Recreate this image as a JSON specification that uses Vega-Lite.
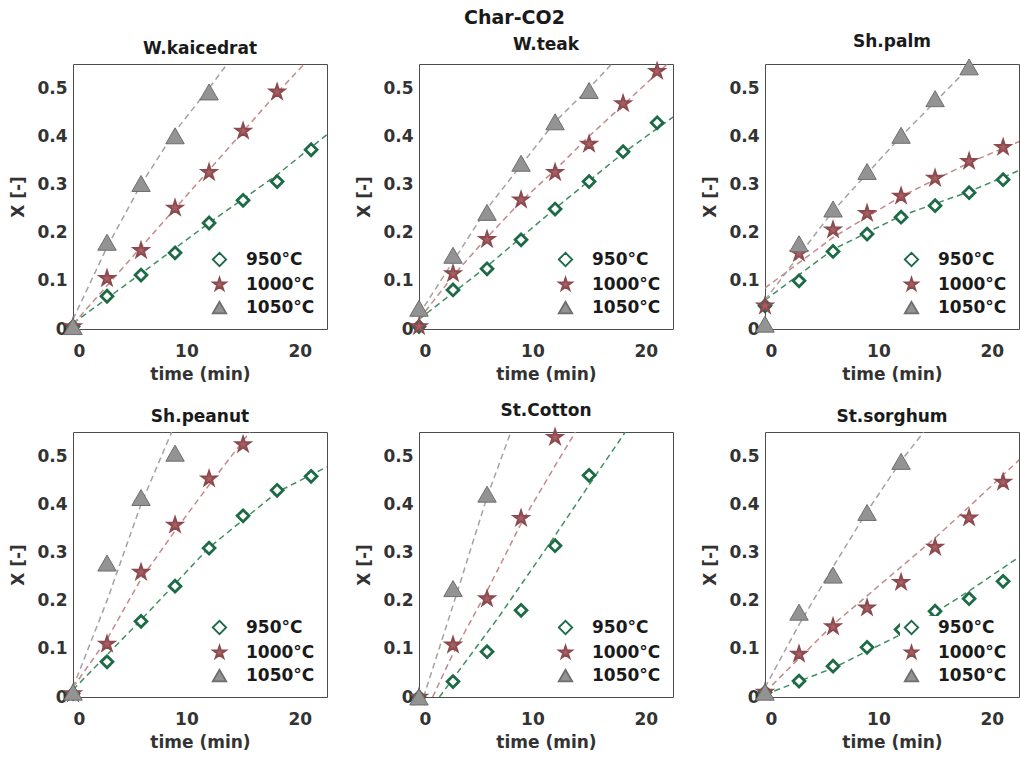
{
  "$schema": "https://vega.github.io/schema/vega-lite/v6.json",
  "background": "white",
  "padding": {"left": 9, "top": 9, "right": 2, "bottom": 2},
  "title": {"text": "Char-CO2", "fontSize": 19, "fontWeight": "bold", "anchor": "middle", "color": "#1a1a1a", "offset": 4, "frame": "bounds"},
  "spacing": 18,
  "datasets": {
    "pts": [
      {"panel":"W.kaicedrat","series":"950°C","time":0,"X":0.005},{"panel":"W.kaicedrat","series":"950°C","time":3,"X":0.068},{"panel":"W.kaicedrat","series":"950°C","time":6,"X":0.112},{"panel":"W.kaicedrat","series":"950°C","time":9,"X":0.158},{"panel":"W.kaicedrat","series":"950°C","time":12,"X":0.22},{"panel":"W.kaicedrat","series":"950°C","time":15,"X":0.267},{"panel":"W.kaicedrat","series":"950°C","time":18,"X":0.306},{"panel":"W.kaicedrat","series":"950°C","time":21,"X":0.372},
      {"panel":"W.kaicedrat","series":"1000°C","time":0,"X":0.005},{"panel":"W.kaicedrat","series":"1000°C","time":3,"X":0.105},{"panel":"W.kaicedrat","series":"1000°C","time":6,"X":0.163},{"panel":"W.kaicedrat","series":"1000°C","time":9,"X":0.251},{"panel":"W.kaicedrat","series":"1000°C","time":12,"X":0.325},{"panel":"W.kaicedrat","series":"1000°C","time":15,"X":0.411},{"panel":"W.kaicedrat","series":"1000°C","time":18,"X":0.492},
      {"panel":"W.kaicedrat","series":"1050°C","time":0,"X":0.005},{"panel":"W.kaicedrat","series":"1050°C","time":3,"X":0.18},{"panel":"W.kaicedrat","series":"1050°C","time":6,"X":0.302},{"panel":"W.kaicedrat","series":"1050°C","time":9,"X":0.401},{"panel":"W.kaicedrat","series":"1050°C","time":12,"X":0.492},
      {"panel":"W.teak","series":"950°C","time":0,"X":0.005},{"panel":"W.teak","series":"950°C","time":3,"X":0.081},{"panel":"W.teak","series":"950°C","time":6,"X":0.125},{"panel":"W.teak","series":"950°C","time":9,"X":0.185},{"panel":"W.teak","series":"950°C","time":12,"X":0.249},{"panel":"W.teak","series":"950°C","time":15,"X":0.306},{"panel":"W.teak","series":"950°C","time":18,"X":0.368},{"panel":"W.teak","series":"950°C","time":21,"X":0.428},
      {"panel":"W.teak","series":"1000°C","time":0,"X":0.005},{"panel":"W.teak","series":"1000°C","time":3,"X":0.115},{"panel":"W.teak","series":"1000°C","time":6,"X":0.186},{"panel":"W.teak","series":"1000°C","time":9,"X":0.268},{"panel":"W.teak","series":"1000°C","time":12,"X":0.325},{"panel":"W.teak","series":"1000°C","time":15,"X":0.384},{"panel":"W.teak","series":"1000°C","time":18,"X":0.468},{"panel":"W.teak","series":"1000°C","time":21,"X":0.535},
      {"panel":"W.teak","series":"1050°C","time":0,"X":0.043},{"panel":"W.teak","series":"1050°C","time":3,"X":0.153},{"panel":"W.teak","series":"1050°C","time":6,"X":0.242},{"panel":"W.teak","series":"1050°C","time":9,"X":0.344},{"panel":"W.teak","series":"1050°C","time":12,"X":0.43},{"panel":"W.teak","series":"1050°C","time":15,"X":0.495},
      {"panel":"Sh.palm","series":"950°C","time":0,"X":0.048},{"panel":"Sh.palm","series":"950°C","time":3,"X":0.1},{"panel":"Sh.palm","series":"950°C","time":6,"X":0.161},{"panel":"Sh.palm","series":"950°C","time":9,"X":0.197},{"panel":"Sh.palm","series":"950°C","time":12,"X":0.232},{"panel":"Sh.palm","series":"950°C","time":15,"X":0.256},{"panel":"Sh.palm","series":"950°C","time":18,"X":0.283},{"panel":"Sh.palm","series":"950°C","time":21,"X":0.31},
      {"panel":"Sh.palm","series":"1000°C","time":0,"X":0.048},{"panel":"Sh.palm","series":"1000°C","time":3,"X":0.157},{"panel":"Sh.palm","series":"1000°C","time":6,"X":0.206},{"panel":"Sh.palm","series":"1000°C","time":9,"X":0.24},{"panel":"Sh.palm","series":"1000°C","time":12,"X":0.276},{"panel":"Sh.palm","series":"1000°C","time":15,"X":0.313},{"panel":"Sh.palm","series":"1000°C","time":18,"X":0.348},{"panel":"Sh.palm","series":"1000°C","time":21,"X":0.377},
      {"panel":"Sh.palm","series":"1050°C","time":0,"X":0.01},{"panel":"Sh.palm","series":"1050°C","time":3,"X":0.177},{"panel":"Sh.palm","series":"1050°C","time":6,"X":0.249},{"panel":"Sh.palm","series":"1050°C","time":9,"X":0.327},{"panel":"Sh.palm","series":"1050°C","time":12,"X":0.402},{"panel":"Sh.palm","series":"1050°C","time":15,"X":0.478},{"panel":"Sh.palm","series":"1050°C","time":18,"X":0.544},
      {"panel":"Sh.peanut","series":"950°C","time":0,"X":0.007},{"panel":"Sh.peanut","series":"950°C","time":3,"X":0.073},{"panel":"Sh.peanut","series":"950°C","time":6,"X":0.157},{"panel":"Sh.peanut","series":"950°C","time":9,"X":0.23},{"panel":"Sh.peanut","series":"950°C","time":12,"X":0.309},{"panel":"Sh.peanut","series":"950°C","time":15,"X":0.376},{"panel":"Sh.peanut","series":"950°C","time":18,"X":0.429},{"panel":"Sh.peanut","series":"950°C","time":21,"X":0.458},
      {"panel":"Sh.peanut","series":"1000°C","time":0,"X":0.007},{"panel":"Sh.peanut","series":"1000°C","time":3,"X":0.11},{"panel":"Sh.peanut","series":"1000°C","time":6,"X":0.259},{"panel":"Sh.peanut","series":"1000°C","time":9,"X":0.357},{"panel":"Sh.peanut","series":"1000°C","time":12,"X":0.453},{"panel":"Sh.peanut","series":"1000°C","time":15,"X":0.524},
      {"panel":"Sh.peanut","series":"1050°C","time":0,"X":0.01},{"panel":"Sh.peanut","series":"1050°C","time":3,"X":0.278},{"panel":"Sh.peanut","series":"1050°C","time":6,"X":0.414},{"panel":"Sh.peanut","series":"1050°C","time":9,"X":0.506},
      {"panel":"St.Cotton","series":"950°C","time":0,"X":0.0},{"panel":"St.Cotton","series":"950°C","time":3,"X":0.032},{"panel":"St.Cotton","series":"950°C","time":6,"X":0.094},{"panel":"St.Cotton","series":"950°C","time":9,"X":0.18},{"panel":"St.Cotton","series":"950°C","time":12,"X":0.314},{"panel":"St.Cotton","series":"950°C","time":15,"X":0.46},
      {"panel":"St.Cotton","series":"1000°C","time":0,"X":0.0},{"panel":"St.Cotton","series":"1000°C","time":3,"X":0.108},{"panel":"St.Cotton","series":"1000°C","time":6,"X":0.204},{"panel":"St.Cotton","series":"1000°C","time":9,"X":0.371},{"panel":"St.Cotton","series":"1000°C","time":12,"X":0.539},
      {"panel":"St.Cotton","series":"1050°C","time":0,"X":0.0},{"panel":"St.Cotton","series":"1050°C","time":3,"X":0.225},{"panel":"St.Cotton","series":"1050°C","time":6,"X":0.421},
      {"panel":"St.sorghum","series":"950°C","time":0,"X":0.01},{"panel":"St.sorghum","series":"950°C","time":3,"X":0.033},{"panel":"St.sorghum","series":"950°C","time":6,"X":0.064},{"panel":"St.sorghum","series":"950°C","time":9,"X":0.103},{"panel":"St.sorghum","series":"950°C","time":12,"X":0.14},{"panel":"St.sorghum","series":"950°C","time":15,"X":0.178},{"panel":"St.sorghum","series":"950°C","time":18,"X":0.204},{"panel":"St.sorghum","series":"950°C","time":21,"X":0.24},
      {"panel":"St.sorghum","series":"1000°C","time":0,"X":0.01},{"panel":"St.sorghum","series":"1000°C","time":3,"X":0.089},{"panel":"St.sorghum","series":"1000°C","time":6,"X":0.146},{"panel":"St.sorghum","series":"1000°C","time":9,"X":0.185},{"panel":"St.sorghum","series":"1000°C","time":12,"X":0.238},{"panel":"St.sorghum","series":"1000°C","time":15,"X":0.311},{"panel":"St.sorghum","series":"1000°C","time":18,"X":0.372},{"panel":"St.sorghum","series":"1000°C","time":21,"X":0.446},
      {"panel":"St.sorghum","series":"1050°C","time":0,"X":0.01},{"panel":"St.sorghum","series":"1050°C","time":3,"X":0.176},{"panel":"St.sorghum","series":"1050°C","time":6,"X":0.253},{"panel":"St.sorghum","series":"1050°C","time":9,"X":0.383},{"panel":"St.sorghum","series":"1050°C","time":12,"X":0.489}
    ],
    "fit": [
      {"panel":"W.kaicedrat","series":"950°C","time":0,"X":0.012},{"panel":"W.kaicedrat","series":"950°C","time":6,"X":0.115},{"panel":"W.kaicedrat","series":"950°C","time":12,"X":0.22},{"panel":"W.kaicedrat","series":"950°C","time":18,"X":0.32},{"panel":"W.kaicedrat","series":"950°C","time":23,"X":0.415},
      {"panel":"W.kaicedrat","series":"1000°C","time":0,"X":0.01},{"panel":"W.kaicedrat","series":"1000°C","time":6,"X":0.17},{"panel":"W.kaicedrat","series":"1000°C","time":12,"X":0.33},{"panel":"W.kaicedrat","series":"1000°C","time":18,"X":0.49},{"panel":"W.kaicedrat","series":"1000°C","time":20.4,"X":0.55},
      {"panel":"W.kaicedrat","series":"1050°C","time":0,"X":0.02},{"panel":"W.kaicedrat","series":"1050°C","time":3,"X":0.17},{"panel":"W.kaicedrat","series":"1050°C","time":6,"X":0.3},{"panel":"W.kaicedrat","series":"1050°C","time":9,"X":0.41},{"panel":"W.kaicedrat","series":"1050°C","time":12,"X":0.5},{"panel":"W.kaicedrat","series":"1050°C","time":13.6,"X":0.55},
      {"panel":"W.teak","series":"950°C","time":0,"X":0.02},{"panel":"W.teak","series":"950°C","time":6,"X":0.13},{"panel":"W.teak","series":"950°C","time":12,"X":0.25},{"panel":"W.teak","series":"950°C","time":18,"X":0.365},{"panel":"W.teak","series":"950°C","time":23,"X":0.45},
      {"panel":"W.teak","series":"1000°C","time":0,"X":0.02},{"panel":"W.teak","series":"1000°C","time":3,"X":0.11},{"panel":"W.teak","series":"1000°C","time":6,"X":0.19},{"panel":"W.teak","series":"1000°C","time":9,"X":0.265},{"panel":"W.teak","series":"1000°C","time":12,"X":0.33},{"panel":"W.teak","series":"1000°C","time":15,"X":0.4},{"panel":"W.teak","series":"1000°C","time":18,"X":0.465},{"panel":"W.teak","series":"1000°C","time":21.9,"X":0.55},
      {"panel":"W.teak","series":"1050°C","time":0,"X":0.03},{"panel":"W.teak","series":"1050°C","time":3,"X":0.14},{"panel":"W.teak","series":"1050°C","time":6,"X":0.25},{"panel":"W.teak","series":"1050°C","time":9,"X":0.34},{"panel":"W.teak","series":"1050°C","time":12,"X":0.43},{"panel":"W.teak","series":"1050°C","time":15,"X":0.5},{"panel":"W.teak","series":"1050°C","time":17,"X":0.55},
      {"panel":"Sh.palm","series":"950°C","time":0,"X":0.06},{"panel":"Sh.palm","series":"950°C","time":6,"X":0.165},{"panel":"Sh.palm","series":"950°C","time":12,"X":0.235},{"panel":"Sh.palm","series":"950°C","time":18,"X":0.285},{"panel":"Sh.palm","series":"950°C","time":23,"X":0.335},
      {"panel":"Sh.palm","series":"1000°C","time":0,"X":0.085},{"panel":"Sh.palm","series":"1000°C","time":6,"X":0.19},{"panel":"Sh.palm","series":"1000°C","time":12,"X":0.275},{"panel":"Sh.palm","series":"1000°C","time":18,"X":0.345},{"panel":"Sh.palm","series":"1000°C","time":23,"X":0.395},
      {"panel":"Sh.palm","series":"1050°C","time":0,"X":0.06},{"panel":"Sh.palm","series":"1050°C","time":6,"X":0.245},{"panel":"Sh.palm","series":"1050°C","time":12,"X":0.4},{"panel":"Sh.palm","series":"1050°C","time":18.3,"X":0.55},
      {"panel":"Sh.peanut","series":"950°C","time":0,"X":0.015},{"panel":"Sh.peanut","series":"950°C","time":6,"X":0.16},{"panel":"Sh.peanut","series":"950°C","time":12,"X":0.31},{"panel":"Sh.peanut","series":"950°C","time":18,"X":0.425},{"panel":"Sh.peanut","series":"950°C","time":23,"X":0.485},
      {"panel":"Sh.peanut","series":"1000°C","time":0,"X":0.02},{"panel":"Sh.peanut","series":"1000°C","time":3,"X":0.12},{"panel":"Sh.peanut","series":"1000°C","time":6,"X":0.245},{"panel":"Sh.peanut","series":"1000°C","time":9,"X":0.345},{"panel":"Sh.peanut","series":"1000°C","time":12,"X":0.44},{"panel":"Sh.peanut","series":"1000°C","time":15.6,"X":0.55},
      {"panel":"Sh.peanut","series":"1050°C","time":0,"X":0.02},{"panel":"Sh.peanut","series":"1050°C","time":3,"X":0.2},{"panel":"Sh.peanut","series":"1050°C","time":6,"X":0.4},{"panel":"Sh.peanut","series":"1050°C","time":8.7,"X":0.55},
      {"panel":"St.Cotton","series":"950°C","time":1.8,"X":0.0},{"panel":"St.Cotton","series":"950°C","time":7,"X":0.165},{"panel":"St.Cotton","series":"950°C","time":12,"X":0.335},{"panel":"St.Cotton","series":"950°C","time":15,"X":0.44},{"panel":"St.Cotton","series":"950°C","time":18.2,"X":0.55},
      {"panel":"St.Cotton","series":"1000°C","time":1.2,"X":0.0},{"panel":"St.Cotton","series":"1000°C","time":3,"X":0.09},{"panel":"St.Cotton","series":"1000°C","time":6,"X":0.22},{"panel":"St.Cotton","series":"1000°C","time":9,"X":0.36},{"panel":"St.Cotton","series":"1000°C","time":12,"X":0.48},{"panel":"St.Cotton","series":"1000°C","time":13.8,"X":0.55},
      {"panel":"St.Cotton","series":"1050°C","time":0.4,"X":0.0},{"panel":"St.Cotton","series":"1050°C","time":3,"X":0.19},{"panel":"St.Cotton","series":"1050°C","time":6,"X":0.415},{"panel":"St.Cotton","series":"1050°C","time":8.1,"X":0.55},
      {"panel":"St.sorghum","series":"950°C","time":0,"X":0.005},{"panel":"St.sorghum","series":"950°C","time":6,"X":0.06},{"panel":"St.sorghum","series":"950°C","time":12,"X":0.13},{"panel":"St.sorghum","series":"950°C","time":15,"X":0.175},{"panel":"St.sorghum","series":"950°C","time":18,"X":0.22},{"panel":"St.sorghum","series":"950°C","time":23,"X":0.3},
      {"panel":"St.sorghum","series":"1000°C","time":0,"X":0.01},{"panel":"St.sorghum","series":"1000°C","time":3,"X":0.08},{"panel":"St.sorghum","series":"1000°C","time":6,"X":0.15},{"panel":"St.sorghum","series":"1000°C","time":9,"X":0.21},{"panel":"St.sorghum","series":"1000°C","time":12,"X":0.27},{"panel":"St.sorghum","series":"1000°C","time":15,"X":0.33},{"panel":"St.sorghum","series":"1000°C","time":18,"X":0.395},{"panel":"St.sorghum","series":"1000°C","time":23,"X":0.505},
      {"panel":"St.sorghum","series":"1050°C","time":0,"X":0.02},{"panel":"St.sorghum","series":"1050°C","time":3,"X":0.15},{"panel":"St.sorghum","series":"1050°C","time":6,"X":0.27},{"panel":"St.sorghum","series":"1050°C","time":9,"X":0.385},{"panel":"St.sorghum","series":"1050°C","time":12,"X":0.49},{"panel":"St.sorghum","series":"1050°C","time":14,"X":0.55}
    ]
  },
  "vconcat": [
    {"hconcat": [
      {"title": "W.kaicedrat", "width": 254, "height": 265, "layer": [
        {"data": {"name": "fit"}, "transform": [{"filter": "datum.panel === 'W.kaicedrat'"}], "mark": {"type": "line", "strokeDash": [6, 4], "strokeWidth": 1.5, "clip": true},
         "encoding": {"x": {"field": "time", "type": "quantitative", "scale": {"domain": [0, 22.4], "nice": false}, "axis": {"values": [0, 10, 20], "title": "time (min)"}}, "y": {"field": "X", "type": "quantitative", "scale": {"domain": [0, 0.55], "nice": false}, "axis": {"values": [0, 0.1, 0.2, 0.3, 0.4, 0.5], "format": "~g", "title": "X [-]"}}, "color": {"field": "series", "type": "nominal", "scale": {"domain": ["950°C", "1000°C", "1050°C"], "range": ["#3f8f62", "#c48a8a", "#a3a3a3"]}, "legend": null}}},
        {"data": {"name": "pts"}, "transform": [{"filter": "datum.panel === 'W.kaicedrat'"}], "mark": {"type": "point", "opacity": 1, "fillOpacity": 1, "strokeOpacity": 1},
         "encoding": {"x": {"field": "time", "type": "quantitative"}, "y": {"field": "X", "type": "quantitative"},
          "fill": {"field": "series", "type": "nominal", "scale": {"domain": ["950°C", "1000°C", "1050°C"], "range": ["#ffffff", "#a65e62", "#939393"]}, "legend": {"title": null}},
          "stroke": {"field": "series", "type": "nominal", "scale": {"domain": ["950°C", "1000°C", "1050°C"], "range": ["#1d6b46", "#8c4a4e", "#6e6e6e"]}, "legend": {"title": null}},
          "shape": {"field": "series", "type": "nominal", "scale": {"domain": ["950°C", "1000°C", "1050°C"], "range": ["diamond", "M0,-1L0.2245,-0.309L0.951,-0.309L0.363,0.118L0.588,0.809L0,0.382L-0.588,0.809L-0.363,0.118L-0.951,-0.309L-0.2245,-0.309Z", "triangle-up"]}, "legend": {"title": null}},
          "size": {"field": "series", "type": "nominal", "scale": {"domain": ["950°C", "1000°C", "1050°C"], "range": [140, 340, 210]}, "legend": null},
          "strokeWidth": {"field": "series", "type": "nominal", "scale": {"domain": ["950°C", "1000°C", "1050°C"], "range": [2.8, 1, 1]}, "legend": null}}}
      ]},
      {"title": "W.teak", "width": 254, "height": 265, "layer": [
        {"data": {"name": "fit"}, "transform": [{"filter": "datum.panel === 'W.teak'"}], "mark": {"type": "line", "strokeDash": [6, 4], "strokeWidth": 1.5, "clip": true},
         "encoding": {"x": {"field": "time", "type": "quantitative", "scale": {"domain": [0, 22.4], "nice": false}, "axis": {"values": [0, 10, 20], "title": "time (min)"}}, "y": {"field": "X", "type": "quantitative", "scale": {"domain": [0, 0.55], "nice": false}, "axis": {"values": [0, 0.1, 0.2, 0.3, 0.4, 0.5], "format": "~g", "title": "X [-]"}}, "color": {"field": "series", "type": "nominal", "scale": {"domain": ["950°C", "1000°C", "1050°C"], "range": ["#3f8f62", "#c48a8a", "#a3a3a3"]}, "legend": null}}},
        {"data": {"name": "pts"}, "transform": [{"filter": "datum.panel === 'W.teak'"}], "mark": {"type": "point", "opacity": 1, "fillOpacity": 1, "strokeOpacity": 1},
         "encoding": {"x": {"field": "time", "type": "quantitative"}, "y": {"field": "X", "type": "quantitative"},
          "fill": {"field": "series", "type": "nominal", "scale": {"domain": ["950°C", "1000°C", "1050°C"], "range": ["#ffffff", "#a65e62", "#939393"]}, "legend": {"title": null}},
          "stroke": {"field": "series", "type": "nominal", "scale": {"domain": ["950°C", "1000°C", "1050°C"], "range": ["#1d6b46", "#8c4a4e", "#6e6e6e"]}, "legend": {"title": null}},
          "shape": {"field": "series", "type": "nominal", "scale": {"domain": ["950°C", "1000°C", "1050°C"], "range": ["diamond", "M0,-1L0.2245,-0.309L0.951,-0.309L0.363,0.118L0.588,0.809L0,0.382L-0.588,0.809L-0.363,0.118L-0.951,-0.309L-0.2245,-0.309Z", "triangle-up"]}, "legend": {"title": null}},
          "size": {"field": "series", "type": "nominal", "scale": {"domain": ["950°C", "1000°C", "1050°C"], "range": [140, 340, 210]}, "legend": null},
          "strokeWidth": {"field": "series", "type": "nominal", "scale": {"domain": ["950°C", "1000°C", "1050°C"], "range": [2.8, 1, 1]}, "legend": null}}}
      ]},
      {"title": "Sh.palm", "width": 254, "height": 265, "layer": [
        {"data": {"name": "fit"}, "transform": [{"filter": "datum.panel === 'Sh.palm'"}], "mark": {"type": "line", "strokeDash": [6, 4], "strokeWidth": 1.5, "clip": true},
         "encoding": {"x": {"field": "time", "type": "quantitative", "scale": {"domain": [0, 22.4], "nice": false}, "axis": {"values": [0, 10, 20], "title": "time (min)"}}, "y": {"field": "X", "type": "quantitative", "scale": {"domain": [0, 0.55], "nice": false}, "axis": {"values": [0, 0.1, 0.2, 0.3, 0.4, 0.5], "format": "~g", "title": "X [-]"}}, "color": {"field": "series", "type": "nominal", "scale": {"domain": ["950°C", "1000°C", "1050°C"], "range": ["#3f8f62", "#c48a8a", "#a3a3a3"]}, "legend": null}}},
        {"data": {"name": "pts"}, "transform": [{"filter": "datum.panel === 'Sh.palm'"}], "mark": {"type": "point", "opacity": 1, "fillOpacity": 1, "strokeOpacity": 1},
         "encoding": {"x": {"field": "time", "type": "quantitative"}, "y": {"field": "X", "type": "quantitative"},
          "fill": {"field": "series", "type": "nominal", "scale": {"domain": ["950°C", "1000°C", "1050°C"], "range": ["#ffffff", "#a65e62", "#939393"]}, "legend": {"title": null}},
          "stroke": {"field": "series", "type": "nominal", "scale": {"domain": ["950°C", "1000°C", "1050°C"], "range": ["#1d6b46", "#8c4a4e", "#6e6e6e"]}, "legend": {"title": null}},
          "shape": {"field": "series", "type": "nominal", "scale": {"domain": ["950°C", "1000°C", "1050°C"], "range": ["diamond", "M0,-1L0.2245,-0.309L0.951,-0.309L0.363,0.118L0.588,0.809L0,0.382L-0.588,0.809L-0.363,0.118L-0.951,-0.309L-0.2245,-0.309Z", "triangle-up"]}, "legend": {"title": null}},
          "size": {"field": "series", "type": "nominal", "scale": {"domain": ["950°C", "1000°C", "1050°C"], "range": [140, 340, 210]}, "legend": null},
          "strokeWidth": {"field": "series", "type": "nominal", "scale": {"domain": ["950°C", "1000°C", "1050°C"], "range": [2.8, 1, 1]}, "legend": null}}}
      ]}
    ], "spacing": 27, "resolve": {"legend": {"fill": "independent", "stroke": "independent", "shape": "independent"}}},
    {"hconcat": [
      {"title": "Sh.peanut", "width": 254, "height": 265, "layer": [
        {"data": {"name": "fit"}, "transform": [{"filter": "datum.panel === 'Sh.peanut'"}], "mark": {"type": "line", "strokeDash": [6, 4], "strokeWidth": 1.5, "clip": true},
         "encoding": {"x": {"field": "time", "type": "quantitative", "scale": {"domain": [0, 22.4], "nice": false}, "axis": {"values": [0, 10, 20], "title": "time (min)"}}, "y": {"field": "X", "type": "quantitative", "scale": {"domain": [0, 0.55], "nice": false}, "axis": {"values": [0, 0.1, 0.2, 0.3, 0.4, 0.5], "format": "~g", "title": "X [-]"}}, "color": {"field": "series", "type": "nominal", "scale": {"domain": ["950°C", "1000°C", "1050°C"], "range": ["#3f8f62", "#c48a8a", "#a3a3a3"]}, "legend": null}}},
        {"data": {"name": "pts"}, "transform": [{"filter": "datum.panel === 'Sh.peanut'"}], "mark": {"type": "point", "opacity": 1, "fillOpacity": 1, "strokeOpacity": 1},
         "encoding": {"x": {"field": "time", "type": "quantitative"}, "y": {"field": "X", "type": "quantitative"},
          "fill": {"field": "series", "type": "nominal", "scale": {"domain": ["950°C", "1000°C", "1050°C"], "range": ["#ffffff", "#a65e62", "#939393"]}, "legend": {"title": null}},
          "stroke": {"field": "series", "type": "nominal", "scale": {"domain": ["950°C", "1000°C", "1050°C"], "range": ["#1d6b46", "#8c4a4e", "#6e6e6e"]}, "legend": {"title": null}},
          "shape": {"field": "series", "type": "nominal", "scale": {"domain": ["950°C", "1000°C", "1050°C"], "range": ["diamond", "M0,-1L0.2245,-0.309L0.951,-0.309L0.363,0.118L0.588,0.809L0,0.382L-0.588,0.809L-0.363,0.118L-0.951,-0.309L-0.2245,-0.309Z", "triangle-up"]}, "legend": {"title": null}},
          "size": {"field": "series", "type": "nominal", "scale": {"domain": ["950°C", "1000°C", "1050°C"], "range": [140, 340, 210]}, "legend": null},
          "strokeWidth": {"field": "series", "type": "nominal", "scale": {"domain": ["950°C", "1000°C", "1050°C"], "range": [2.8, 1, 1]}, "legend": null}}}
      ]},
      {"title": "St.Cotton", "width": 254, "height": 265, "layer": [
        {"data": {"name": "fit"}, "transform": [{"filter": "datum.panel === 'St.Cotton'"}], "mark": {"type": "line", "strokeDash": [6, 4], "strokeWidth": 1.5, "clip": true},
         "encoding": {"x": {"field": "time", "type": "quantitative", "scale": {"domain": [0, 22.4], "nice": false}, "axis": {"values": [0, 10, 20], "title": "time (min)"}}, "y": {"field": "X", "type": "quantitative", "scale": {"domain": [0, 0.55], "nice": false}, "axis": {"values": [0, 0.1, 0.2, 0.3, 0.4, 0.5], "format": "~g", "title": "X [-]"}}, "color": {"field": "series", "type": "nominal", "scale": {"domain": ["950°C", "1000°C", "1050°C"], "range": ["#3f8f62", "#c48a8a", "#a3a3a3"]}, "legend": null}}},
        {"data": {"name": "pts"}, "transform": [{"filter": "datum.panel === 'St.Cotton'"}], "mark": {"type": "point", "opacity": 1, "fillOpacity": 1, "strokeOpacity": 1},
         "encoding": {"x": {"field": "time", "type": "quantitative"}, "y": {"field": "X", "type": "quantitative"},
          "fill": {"field": "series", "type": "nominal", "scale": {"domain": ["950°C", "1000°C", "1050°C"], "range": ["#ffffff", "#a65e62", "#939393"]}, "legend": {"title": null}},
          "stroke": {"field": "series", "type": "nominal", "scale": {"domain": ["950°C", "1000°C", "1050°C"], "range": ["#1d6b46", "#8c4a4e", "#6e6e6e"]}, "legend": {"title": null}},
          "shape": {"field": "series", "type": "nominal", "scale": {"domain": ["950°C", "1000°C", "1050°C"], "range": ["diamond", "M0,-1L0.2245,-0.309L0.951,-0.309L0.363,0.118L0.588,0.809L0,0.382L-0.588,0.809L-0.363,0.118L-0.951,-0.309L-0.2245,-0.309Z", "triangle-up"]}, "legend": {"title": null}},
          "size": {"field": "series", "type": "nominal", "scale": {"domain": ["950°C", "1000°C", "1050°C"], "range": [140, 340, 210]}, "legend": null},
          "strokeWidth": {"field": "series", "type": "nominal", "scale": {"domain": ["950°C", "1000°C", "1050°C"], "range": [2.8, 1, 1]}, "legend": null}}}
      ]},
      {"title": "St.sorghum", "width": 254, "height": 265, "layer": [
        {"data": {"name": "fit"}, "transform": [{"filter": "datum.panel === 'St.sorghum'"}], "mark": {"type": "line", "strokeDash": [6, 4], "strokeWidth": 1.5, "clip": true},
         "encoding": {"x": {"field": "time", "type": "quantitative", "scale": {"domain": [0, 22.4], "nice": false}, "axis": {"values": [0, 10, 20], "title": "time (min)"}}, "y": {"field": "X", "type": "quantitative", "scale": {"domain": [0, 0.55], "nice": false}, "axis": {"values": [0, 0.1, 0.2, 0.3, 0.4, 0.5], "format": "~g", "title": "X [-]"}}, "color": {"field": "series", "type": "nominal", "scale": {"domain": ["950°C", "1000°C", "1050°C"], "range": ["#3f8f62", "#c48a8a", "#a3a3a3"]}, "legend": null}}},
        {"data": {"name": "pts"}, "transform": [{"filter": "datum.panel === 'St.sorghum'"}], "mark": {"type": "point", "opacity": 1, "fillOpacity": 1, "strokeOpacity": 1},
         "encoding": {"x": {"field": "time", "type": "quantitative"}, "y": {"field": "X", "type": "quantitative"},
          "fill": {"field": "series", "type": "nominal", "scale": {"domain": ["950°C", "1000°C", "1050°C"], "range": ["#ffffff", "#a65e62", "#939393"]}, "legend": {"title": null}},
          "stroke": {"field": "series", "type": "nominal", "scale": {"domain": ["950°C", "1000°C", "1050°C"], "range": ["#1d6b46", "#8c4a4e", "#6e6e6e"]}, "legend": {"title": null}},
          "shape": {"field": "series", "type": "nominal", "scale": {"domain": ["950°C", "1000°C", "1050°C"], "range": ["diamond", "M0,-1L0.2245,-0.309L0.951,-0.309L0.363,0.118L0.588,0.809L0,0.382L-0.588,0.809L-0.363,0.118L-0.951,-0.309L-0.2245,-0.309Z", "triangle-up"]}, "legend": {"title": null}},
          "size": {"field": "series", "type": "nominal", "scale": {"domain": ["950°C", "1000°C", "1050°C"], "range": [140, 340, 210]}, "legend": null},
          "strokeWidth": {"field": "series", "type": "nominal", "scale": {"domain": ["950°C", "1000°C", "1050°C"], "range": [2.8, 1, 1]}, "legend": null}}}
      ]}
    ], "spacing": 27, "resolve": {"legend": {"fill": "independent", "stroke": "independent", "shape": "independent"}}}
  ],
  "resolve": {"legend": {"fill": "independent", "stroke": "independent", "shape": "independent"}},
  "config": {
    "font": "DejaVu Sans",
    "view": {"stroke": "#4d4d4d", "strokeWidth": 1},
    "axis": {"domain": false, "grid": false, "ticks": false, "labelFontSize": 17, "labelFontWeight": "bold", "labelColor": "#333333", "titleFontSize": 17, "titleFontWeight": "bold", "titleColor": "#333333"},
    "axisX": {"labelPadding": 14, "titlePadding": 7},
    "axisY": {"labelPadding": 6, "titlePadding": 9},
    "title": {"fontSize": 17, "fontWeight": "bold", "color": "#1a1a1a", "offset": 6, "frame": "group"},
    "legend": {"orient": "bottom-right", "offset": 9, "padding": 3, "fillColor": "white", "labelFontSize": 17, "labelFontWeight": "bold", "labelColor": "#1a1a1a", "symbolSize": 180, "symbolStrokeWidth": 1.8, "rowPadding": 4, "labelOffset": 18}
  }
}
